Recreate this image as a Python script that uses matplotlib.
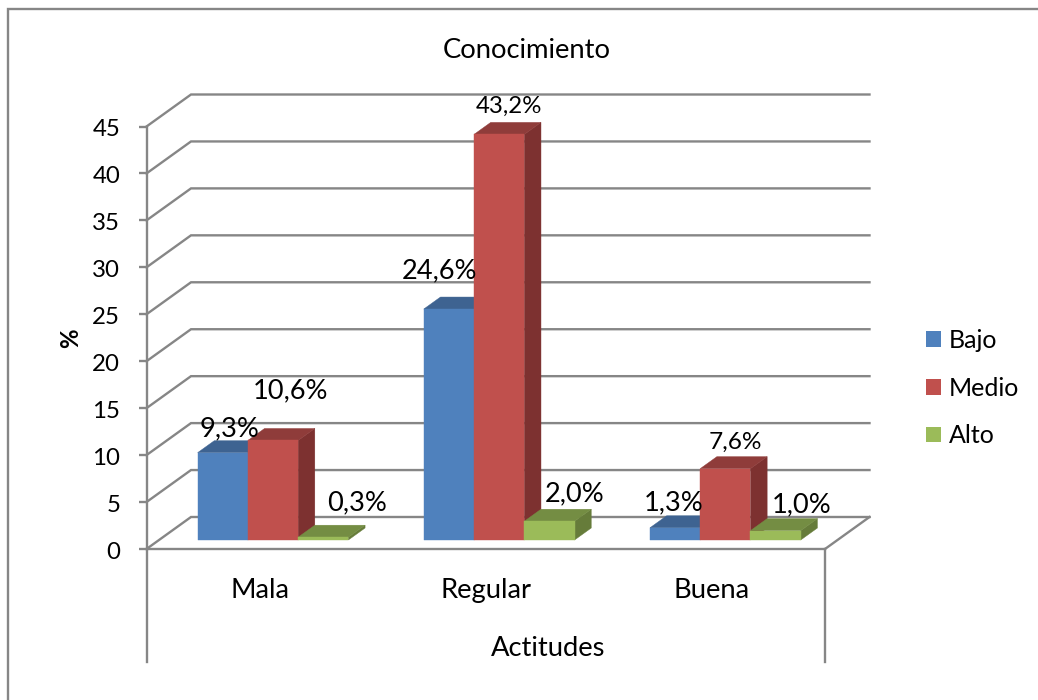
import matplotlib
matplotlib.use("Agg")
import matplotlib.pyplot as plt
from matplotlib.lines import Line2D
from matplotlib.patches import Polygon, Rectangle
from matplotlib.transforms import ScaledTranslation

plt.rcParams['font.family'] = ['Lato', 'DejaVu Sans']

categories = ['Mala', 'Regular', 'Buena']
series_names = ['Bajo', 'Medio', 'Alto']
bajo = [9.3, 24.6, 1.3]
medio = [10.6, 43.2, 7.6]
alto = [0.3, 2.0, 1.0]
y_ticks = [0, 5, 10, 15, 20, 25, 30, 35, 40, 45]

# front, top and side shades for each series
front_colors = ['#4F81BD', '#C0504D', '#9BBB59']
top_colors = ['#3E6391', '#8F3C3A', '#748D43']
side_colors = ['#355479', '#7D3130', '#667C3A']
grid_color = '#868686'

# label offsets from the front-top centre of each bar, in pixels
label_offsets = [
    [(6.5, 24), (18, 50), (34, 34)],
    [(-9, 38), (9.5, 28), (25, 27)],
    [(-1, 25), (10, 26), (26, 26)],
]
# per-label font sizes, by category and series
label_sizes = [
    [19.6, 19.6, 19.6],
    [19.6, 17.3, 19.6],
    [19.6, 17.6, 19.6],
]

WORD_SIZE = 19.7
NUMBER_SIZE = 17.3
LEGEND_SIZE = 18

W, H = 1038, 700
fig = plt.figure(figsize=(W / 100, H / 100), dpi=100)
fig.patch.set_facecolor('white')

lw = 1.7

# outer chart frame: only the top and left edges fall inside the canvas
fig.add_artist(Line2D([8 / W, 8 / W, 1], [0, 1 - 9 / H, 1 - 9 / H],
                      transform=fig.transFigure, color=grid_color, linewidth=lw,
                      solid_joinstyle='miter'))

left, right, y0, y45 = 146.5, 825, 549, 126.5
ax = fig.add_axes([left / W, 1 - y0 / H, (right - left) / W, (y0 - y45) / H])
ax.set_xlim(0, 3)
ax.set_ylim(0, 45)
ax.patch.set_visible(False)

px_x = 3 / (right - left)
px_y = 45 / (y0 - y45)
# oblique projection: one unit of depth shifts right and up
depth_x = 44.5 * px_x
depth_y = 32 * px_y


def project(x, y, d):
    return x + d * depth_x, y + d * depth_y


# back wall gridlines and floor outline
for t in y_ticks:
    xs, ys = zip(project(0, t, 0), project(0, t, 1), project(3, t, 1))
    ax.plot(xs, ys, color=grid_color, lw=lw, clip_on=False, zorder=1,
            solid_joinstyle='miter')
xs, ys = zip(project(3, 0, 1), project(3, 0, 0))
ax.plot(xs, ys, color=grid_color, lw=lw, clip_on=False, zorder=1)

# category axis brackets below the floor
bracket = -113 * px_y
for xb in (0, 3):
    ax.plot([xb, xb], [0, bracket], color=grid_color, lw=lw, clip_on=False, zorder=1)

# bars
bar_w = 1 / 4.5
bar_shift = 0.9 * px_x
d_front, d_back = 9 / 32, 21 / 32
z = 3
for i in range(len(categories)):
    for j, values in enumerate((bajo, medio, alto)):
        v = values[i]
        x0 = i + 0.5 + (j - 1.5) * bar_w + bar_shift
        x1 = x0 + bar_w
        front = [project(x0, 0, d_front), project(x1, 0, d_front),
                 project(x1, v, d_front), project(x0, v, d_front)]
        top = [project(x0, v, d_front), project(x1, v, d_front),
               project(x1, v, d_back), project(x0, v, d_back)]
        side = [project(x1, 0, d_front), project(x1, 0, d_back),
                project(x1, v, d_back), project(x1, v, d_front)]
        for pts, col in ((side, side_colors[j]), (top, top_colors[j]), (front, front_colors[j])):
            ax.add_patch(Polygon(pts, closed=True, facecolor=col, edgecolor=col,
                                 linewidth=0.3, clip_on=False, zorder=z))
        z += 1

# value labels
for i in range(len(categories)):
    for j, values in enumerate((bajo, medio, alto)):
        v = values[i]
        xc = i + 0.5 + (j - 1) * bar_w + bar_shift
        ax.annotate(f'{v:.1f}%'.replace('.', ','),
                    xy=project(xc, v, d_front),
                    xytext=label_offsets[i][j], textcoords='offset pixels',
                    ha='center', va='center', fontsize=label_sizes[i][j], color='black',
                    annotation_clip=False, zorder=40)

ax.set_yticks(y_ticks)
ax.set_xticks([0.5, 1.5, 2.5])
ax.set_xticklabels(categories)
ax.tick_params(axis='y', length=6, width=lw, color=grid_color, labelsize=NUMBER_SIZE, pad=13)
ax.tick_params(axis='x', length=0, labelsize=WORD_SIZE, pad=21)
nudge = ScaledTranslation(0, -1.5 / 100, fig.dpi_scale_trans)
for tick_label in ax.get_yticklabels():
    tick_label.set_transform(tick_label.get_transform() + nudge)
for name in ('top', 'right'):
    ax.spines[name].set_visible(False)
for name in ('left', 'bottom'):
    ax.spines[name].set_color(grid_color)
    ax.spines[name].set_linewidth(lw)

fig.text(527 / W, 1 - 51 / H, 'Conocimiento', ha='center', va='center', fontsize=WORD_SIZE)
fig.text(548.5 / W, 1 - 648 / H, 'Actitudes', ha='center', va='center', fontsize=WORD_SIZE)
fig.text(71 / W, 1 - 338 / H, '%', ha='center', va='center', rotation=90,
         fontsize=NUMBER_SIZE, fontweight='bold')

handles = [Rectangle((0, 0), 1, 1, facecolor=c, edgecolor='none') for c in front_colors]
fig.legend(handles, series_names, loc='center left',
           bbox_to_anchor=(903 / W, 1 - 388 / H), frameon=False, fontsize=LEGEND_SIZE,
           handlelength=0.6, handleheight=0.6, handletextpad=0.32, labelspacing=0.99)

fig.savefig('out.png', dpi=100)
